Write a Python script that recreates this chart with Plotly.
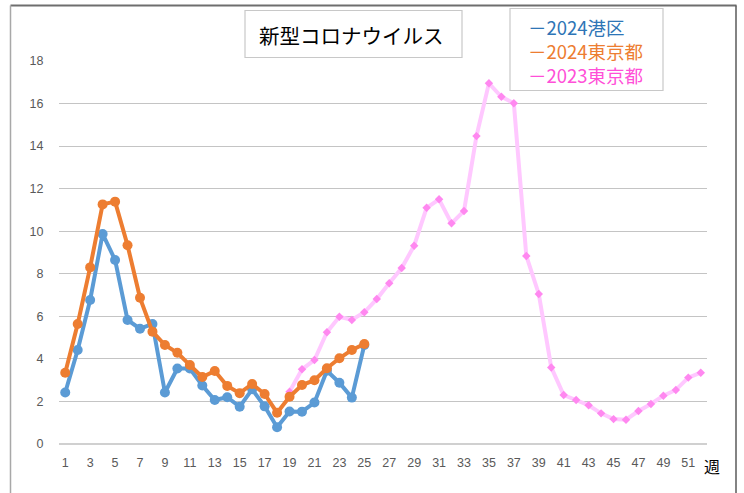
import plotly.graph_objects as go

# ---- data ----
weeks_2024 = list(range(1, 26))
minato_2024 = [2.42, 4.42, 6.77, 9.87, 8.65, 5.83, 5.42, 5.64, 2.42, 3.55,
               3.55, 2.75, 2.07, 2.20, 1.75, 2.57, 1.77, 0.79, 1.53, 1.52,
               1.95, 3.44, 2.88, 2.18, 4.65]
tokyo_2024 = [3.35, 5.64, 8.30, 11.26, 11.39, 9.34, 6.87, 5.28, 4.65, 4.29,
              3.71, 3.15, 3.43, 2.73, 2.39, 2.82, 2.35, 1.47, 2.22, 2.77,
              3.00, 3.56, 4.03, 4.42, 4.70]
weeks_2023 = list(range(19, 53))
tokyo_2023 = [2.46, 3.51, 3.95, 5.25, 5.98, 5.83, 6.19, 6.81, 7.55, 8.27,
              9.32, 11.10, 11.50, 10.37, 10.95, 14.47, 16.95, 16.32, 16.01, 8.84,
              7.05, 3.60, 2.30, 2.07, 1.82, 1.44, 1.17, 1.14, 1.55, 1.88,
              2.27, 2.54, 3.12, 3.35]
x_ticks = list(range(1, 52, 2))
series_names = ["－2024港区", "－2024東京都", "－2023東京都"]
title_text = "新型コロナウイルス"
x_unit = "週"

# ---- layout geometry (pixels) ----
W_FIG, H_FIG = 744, 493
L, R, T, B = 59, 707, 61, 444
PW, PH = R - L, B - T


def px(x):
    return (x - L) / PW


def py(y):
    return (B - y) / PH


fig = go.Figure()
fig.add_trace(go.Scatter(
    x=weeks_2023, y=tokyo_2023, mode="lines+markers", name=series_names[2],
    line=dict(color="#ffc8ff", width=4),
    marker=dict(symbol="diamond", size=6.5, color="#ff88f0"),
))
fig.add_trace(go.Scatter(
    x=weeks_2024, y=minato_2024, mode="lines+markers", name=series_names[0],
    line=dict(color="#5b9bd5", width=4),
    marker=dict(symbol="circle", size=10, color="#5b9bd5"),
))
fig.add_trace(go.Scatter(
    x=weeks_2024, y=tokyo_2024, mode="lines+markers", name=series_names[1],
    line=dict(color="#ed7d31", width=4),
    marker=dict(symbol="circle", size=10, color="#ed7d31"),
))

tick_font = dict(family="Liberation Sans Narrow, Liberation Sans, sans-serif", size=12.5, color="#595959")

fig.update_layout(
    width=W_FIG, height=H_FIG,
    margin=dict(l=L, r=W_FIG - R, t=T, b=H_FIG - B, pad=0),
    paper_bgcolor="white", plot_bgcolor="white",
    showlegend=False,
    xaxis=dict(range=[0.5, 52.5], tickvals=x_ticks, showgrid=False, zeroline=False,
               showline=False, ticks="outside", ticklen=7, tickcolor="rgba(0,0,0,0)",
               tickfont=tick_font, fixedrange=True),
    yaxis=dict(range=[0, 18], dtick=2, showgrid=True, gridcolor="#c4c4c4", gridwidth=1.3,
               zeroline=True, zerolinecolor="#d0d0d0", zerolinewidth=2,
               showline=False, ticks="outside", ticklen=12, tickcolor="rgba(0,0,0,0)",
               tickfont=tick_font, fixedrange=True),
)

shapes = []
# outer chart border
shapes.append(dict(type="line", xref="paper", yref="paper", x0=px(10.5), x1=px(736.5), y0=py(5.5), y1=py(5.5),
                   line=dict(color="#6e6e6e", width=2)))
shapes.append(dict(type="line", xref="paper", yref="paper", x0=px(10.5), x1=px(10.5), y0=py(5.5), y1=py(500),
                   line=dict(color="#a8a8a8", width=1.5)))
shapes.append(dict(type="line", xref="paper", yref="paper", x0=px(736), x1=px(736), y0=py(5.5), y1=py(500),
                   line=dict(color="#5a5a5a", width=1.5)))
# title box
shapes.append(dict(type="rect", xref="paper", yref="paper", x0=px(245), x1=px(462), y0=py(57.5), y1=py(10.5),
                   line=dict(color="#c8c8c8", width=1.2), fillcolor="white", layer="above"))
# legend box
shapes.append(dict(type="rect", xref="paper", yref="paper", x0=px(510), x1=px(663), y0=py(90.5), y1=py(8.5),
                   line=dict(color="#c8c8c8", width=1.2), fillcolor="white", layer="above"))
fig.update_layout(shapes=shapes)

annos = []
annos.append(dict(text=title_text, xref="paper", yref="paper", x=px(351), y=py(35),
                  xanchor="center", yanchor="middle", showarrow=False,
                  font=dict(family="Noto Sans CJK JP", size=20.5, color="#000000")))
legend_colors = ["#2e75b6", "#ed7d31", "#ff50d8"]
legend_text = "<br>".join(
    f"<span style='color:{c}'>{n}</span>" for n, c in zip(series_names, legend_colors))
annos.append(dict(text=legend_text, xref="paper", yref="paper", x=px(526), y=py(50.5),
                  xanchor="left", yanchor="middle", align="left", showarrow=False,
                  font=dict(family="Noto Sans CJK JP", size=18.5, color="#2e75b6")))
annos.append(dict(text=x_unit, xref="paper", yref="paper", x=px(712), y=py(466),
                  xanchor="center", yanchor="middle", showarrow=False,
                  font=dict(family="Noto Sans CJK JP", size=16, color="#000000")))
fig.update_layout(annotations=annos)

fig.write_html("out.html", config={"displayModeBar": False},
               post_script="document.body.style.margin='0';")
